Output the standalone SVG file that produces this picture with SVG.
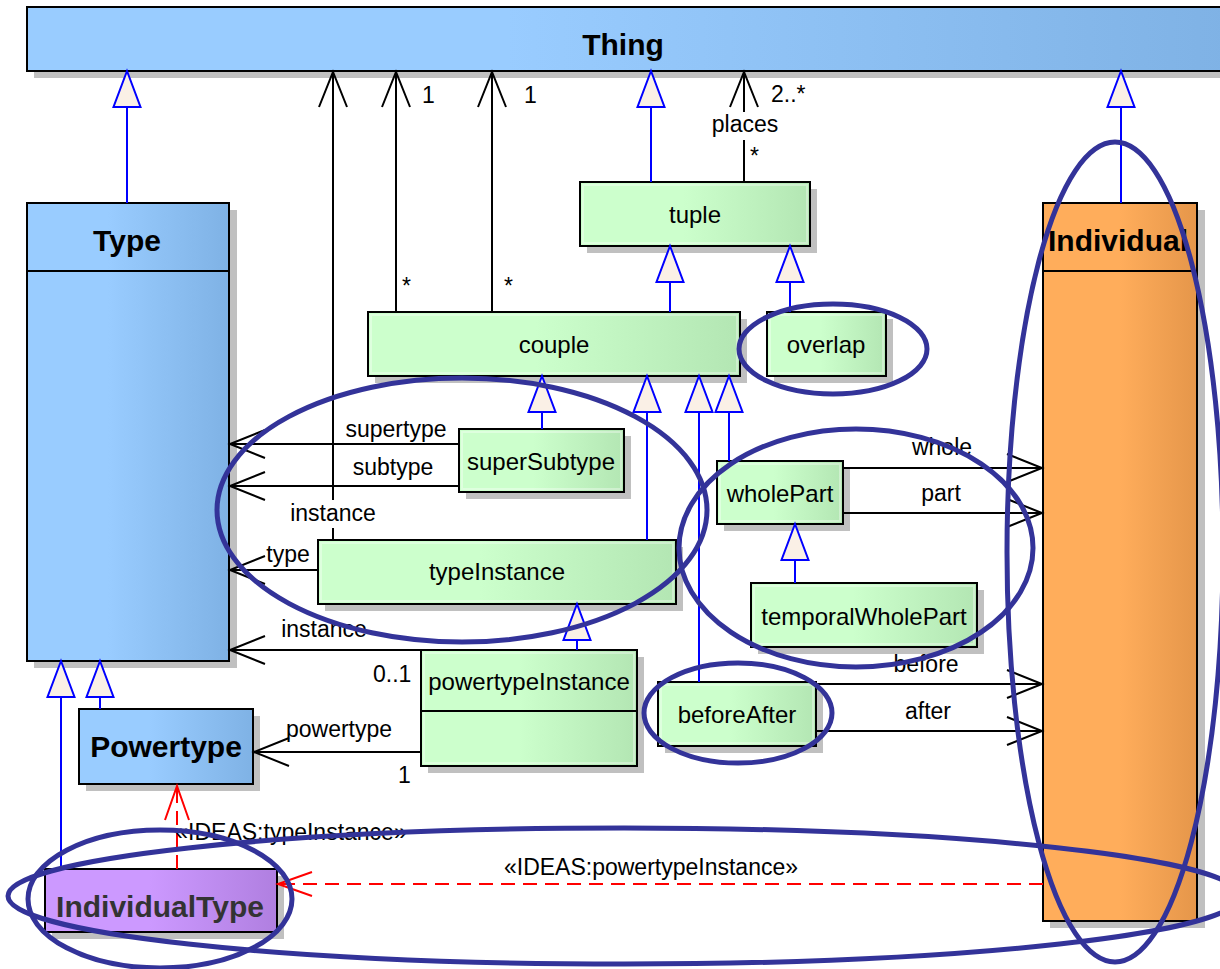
<svg xmlns="http://www.w3.org/2000/svg" width="1220" height="969" viewBox="0 0 1220 969">
<style>
text{font-family:"Liberation Sans",Arial,sans-serif;fill:#000}
.nm{font-size:24px;text-anchor:middle}
.bd{font-size:30px;font-weight:bold;text-anchor:middle}
.lb{font-size:23px}
.c{text-anchor:middle}
.box{stroke:#000;stroke-width:2}
.sh{fill:#c0c0c0}
.hl{fill:none;stroke:#fff;stroke-opacity:.35;stroke-width:2}
.gen{stroke:#0000ff;stroke-width:2;fill:none;marker-end:url(#tri)}
.asc{stroke:#000;stroke-width:2;fill:none}
.arr{marker-end:url(#open)}
.dep{stroke:#ff0000;stroke-width:2;fill:none;stroke-dasharray:14 8;marker-end:url(#ropen)}
.ell{fill:none;stroke:#333399;stroke-width:5}
</style>
<defs>
<linearGradient id="gBlue" x1="0" y1="0" x2="1" y2="0"><stop offset="0" stop-color="#99CCFF"/><stop offset=".4" stop-color="#99CCFF"/><stop offset="1" stop-color="#7FB2E5"/></linearGradient>
<linearGradient id="gGreen" x1="0" y1="0" x2="1" y2="0"><stop offset="0" stop-color="#CCFFCC"/><stop offset=".45" stop-color="#CCFFCC"/><stop offset="1" stop-color="#B3E6B3"/></linearGradient>
<linearGradient id="gOrange" x1="0" y1="0" x2="1" y2="0"><stop offset="0" stop-color="#FFAD5B"/><stop offset=".5" stop-color="#FFAD5B"/><stop offset="1" stop-color="#E5964A"/></linearGradient>
<linearGradient id="gPurple" x1="0" y1="0" x2="1" y2="0"><stop offset="0" stop-color="#CC99FF"/><stop offset=".45" stop-color="#CC99FF"/><stop offset="1" stop-color="#B07FE0"/></linearGradient>
<marker id="tri" markerUnits="userSpaceOnUse" orient="auto" overflow="visible" refX="0" refY="0" markerWidth="40" markerHeight="40">
<path d="M0,0 L-36,-13.5 L-36,13.5 Z" fill="#FAF0E6" stroke="#0000ff" stroke-width="2" stroke-dasharray="none"/>
</marker>
<marker id="open" markerUnits="userSpaceOnUse" orient="auto" overflow="visible" refX="0" refY="0" markerWidth="40" markerHeight="40">
<path d="M-35,-14 L0,0 L-35,14" fill="none" stroke="#000" stroke-width="2" stroke-dasharray="none"/>
</marker>
<marker id="ropen" markerUnits="userSpaceOnUse" orient="auto" overflow="visible" refX="0" refY="0" markerWidth="40" markerHeight="40">
<path d="M-34,-12 L0,0 L-34,12" fill="none" stroke="#ff0000" stroke-width="2" stroke-dasharray="none"/>
</marker>
</defs>
<rect width="1220" height="969" fill="#fff"/>

<g id="Thing">
<rect class="sh" x="34" y="14" width="1200" height="64"/>
<rect class="box" x="27" y="7" width="1200" height="64" fill="url(#gBlue)"/>
<text class="bd" x="623" y="55">Thing</text>
</g>
<g id="Type">
<rect class="sh" x="34" y="210" width="203" height="458"/>
<rect class="box" x="27" y="203" width="202" height="458" fill="url(#gBlue)"/>
<line x1="27" y1="271" x2="229" y2="271" stroke="#000" stroke-width="2"/>
<text class="bd" x="127" y="251">Type</text>
</g>
<g id="Individual">
<rect class="sh" x="1050" y="210" width="155" height="718"/>
<rect class="box" x="1043" y="203" width="154" height="718" fill="url(#gOrange)"/>
<line x1="1043" y1="271" x2="1197" y2="271" stroke="#000" stroke-width="2"/>
<text class="bd" x="1118" y="251">Individual</text>
</g>
<g id="tuple">
<rect class="sh" x="587" y="189" width="230" height="64"/>
<rect class="box" x="580" y="182" width="230" height="64" fill="url(#gGreen)"/>
<rect class="hl" x="583" y="185" width="224" height="58"/>
<text class="nm" x="695" y="223">tuple</text>
</g>
<g id="couple">
<rect class="sh" x="375" y="319" width="372" height="64"/>
<rect class="box" x="368" y="312" width="372" height="64" fill="url(#gGreen)"/>
<rect class="hl" x="371" y="315" width="366" height="58"/>
<text class="nm" x="554" y="353">couple</text>
</g>
<g id="overlap">
<rect class="sh" x="774" y="319" width="119" height="64"/>
<rect class="box" x="767" y="312" width="119" height="64" fill="url(#gGreen)"/>
<rect class="hl" x="770" y="315" width="113" height="58"/>
<text class="nm" x="826" y="353">overlap</text>
</g>
<g id="superSubtype">
<rect class="sh" x="466" y="436" width="165" height="63"/>
<rect class="box" x="459" y="429" width="165" height="63" fill="url(#gGreen)"/>
<rect class="hl" x="462" y="432" width="159" height="57"/>
<text class="nm" x="541" y="470">superSubtype</text>
</g>
<g id="typeInstance">
<rect class="sh" x="325" y="547" width="358" height="64"/>
<rect class="box" x="318" y="540" width="358" height="64" fill="url(#gGreen)"/>
<rect class="hl" x="321" y="543" width="352" height="58"/>
<text class="nm" x="497" y="580">typeInstance</text>
</g>
<g id="powertypeInstance">
<rect class="sh" x="428" y="657" width="216" height="116"/>
<rect class="box" x="421" y="650" width="216" height="116" fill="url(#gGreen)"/>
<rect class="hl" x="424" y="653" width="210" height="110"/>
<line x1="421" y1="711" x2="637" y2="711" stroke="#000" stroke-width="2"/>
<text class="nm" x="529" y="690">powertypeInstance</text>
</g>
<g id="wholePart">
<rect class="sh" x="724" y="468" width="126" height="63"/>
<rect class="box" x="717" y="461" width="126" height="63" fill="url(#gGreen)"/>
<rect class="hl" x="720" y="464" width="120" height="57"/>
<text class="nm" x="780" y="502">wholePart</text>
</g>
<g id="temporalWholePart">
<rect class="sh" x="758" y="590" width="226" height="64"/>
<rect class="box" x="751" y="583" width="226" height="64" fill="url(#gGreen)"/>
<rect class="hl" x="754" y="586" width="220" height="58"/>
<text class="nm" x="864" y="625">temporalWholePart</text>
</g>
<g id="beforeAfter">
<rect class="sh" x="665" y="689" width="158" height="64"/>
<rect class="box" x="658" y="682" width="158" height="64" fill="url(#gGreen)"/>
<rect class="hl" x="661" y="685" width="152" height="58"/>
<text class="nm" x="737" y="723">beforeAfter</text>
</g>
<g id="Powertype">
<rect class="sh" x="86" y="716" width="174" height="75"/>
<rect class="box" x="79" y="709" width="174" height="75" fill="url(#gBlue)"/>
<text class="bd" x="166" y="757">Powertype</text>
</g>
<g id="IndividualType">
<rect class="sh" x="52" y="876" width="232" height="63"/>
<rect class="box" x="45" y="869" width="232" height="63" fill="url(#gPurple)"/>
<text class="bd" x="160" y="917" style="fill:#333">IndividualType</text>
</g>

<g id="connectors">
<path class="gen" d="M127,203 V71"/>
<path class="gen" d="M651,182 V71"/>
<path class="gen" d="M1121,203 V71"/>
<path class="gen" d="M670,312 V246"/>
<path class="gen" d="M790,312 V246"/>
<path class="gen" d="M542,429 V376"/>
<path class="gen" d="M647,540 V376"/>
<path class="gen" d="M699,682 V376"/>
<path class="gen" d="M729,461 V376"/>
<path class="gen" d="M795,583 V524"/>
<path class="gen" d="M577,650 V604"/>
<path class="gen" d="M100,709 V661"/>
<path class="gen" d="M61,869 V661"/>

<path class="asc" d="M333,540 V528"/>
<path class="asc arr" d="M333,500 V72"/>
<path class="asc arr" d="M396,312 V72"/>
<path class="asc arr" d="M492,312 V72"/>
<path class="asc" d="M744,182 V140"/>
<path class="asc arr" d="M744,112 V72"/>
<path class="asc arr" d="M459,444 H230"/>
<path class="asc arr" d="M459,486 H230"/>
<path class="asc arr" d="M318,570 H230"/>
<path class="asc arr" d="M421,650 H230"/>
<path class="asc arr" d="M421,752 H254"/>
<path class="asc arr" d="M843,468 H1042"/>
<path class="asc arr" d="M843,513 H1042"/>
<path class="asc arr" d="M816,684 H1042"/>
<path class="asc arr" d="M816,731 H1042"/>

<path class="dep" d="M177,869 V786"/>
<path class="dep" d="M1043,884 H278"/>

<text class="lb" x="422" y="103">1</text>
<text class="lb" x="524" y="103">1</text>
<text class="lb" x="771" y="102">2..*</text>
<text class="lb c" x="745" y="132">places</text>
<text class="lb" x="750" y="164">*</text>
<text class="lb" x="402" y="294">*</text>
<text class="lb" x="504" y="294">*</text>
<text class="lb c" x="396" y="437">supertype</text>
<text class="lb c" x="393" y="475">subtype</text>
<text class="lb c" x="333" y="521">instance</text>
<text class="lb c" x="288" y="562">type</text>
<text class="lb c" x="324" y="637">instance</text>
<text class="lb" x="373" y="682">0..1</text>
<text class="lb c" x="339" y="737">powertype</text>
<text class="lb" x="398" y="783">1</text>
<text class="lb c" x="942" y="455">whole</text>
<text class="lb c" x="941" y="501">part</text>
<text class="lb c" x="926" y="672">before</text>
<text class="lb c" x="928" y="719">after</text>
<text class="lb c" x="291" y="840">«IDEAS:typeInstance»</text>
<text class="lb c" x="651" y="875">«IDEAS:powertypeInstance»</text>
</g>

<g id="highlights">
<ellipse class="ell" cx="462" cy="510" rx="245" ry="132"/>
<ellipse class="ell" cx="833" cy="349" rx="94" ry="45"/>
<ellipse class="ell" cx="856" cy="548" rx="177" ry="119"/>
<ellipse class="ell" cx="738" cy="713" rx="94" ry="50"/>
<ellipse class="ell" cx="1115" cy="552" rx="108" ry="410"/>
<ellipse class="ell" cx="160" cy="899" rx="132" ry="69"/>
<ellipse class="ell" cx="624" cy="896" rx="616" ry="68"/>
</g>
</svg>
